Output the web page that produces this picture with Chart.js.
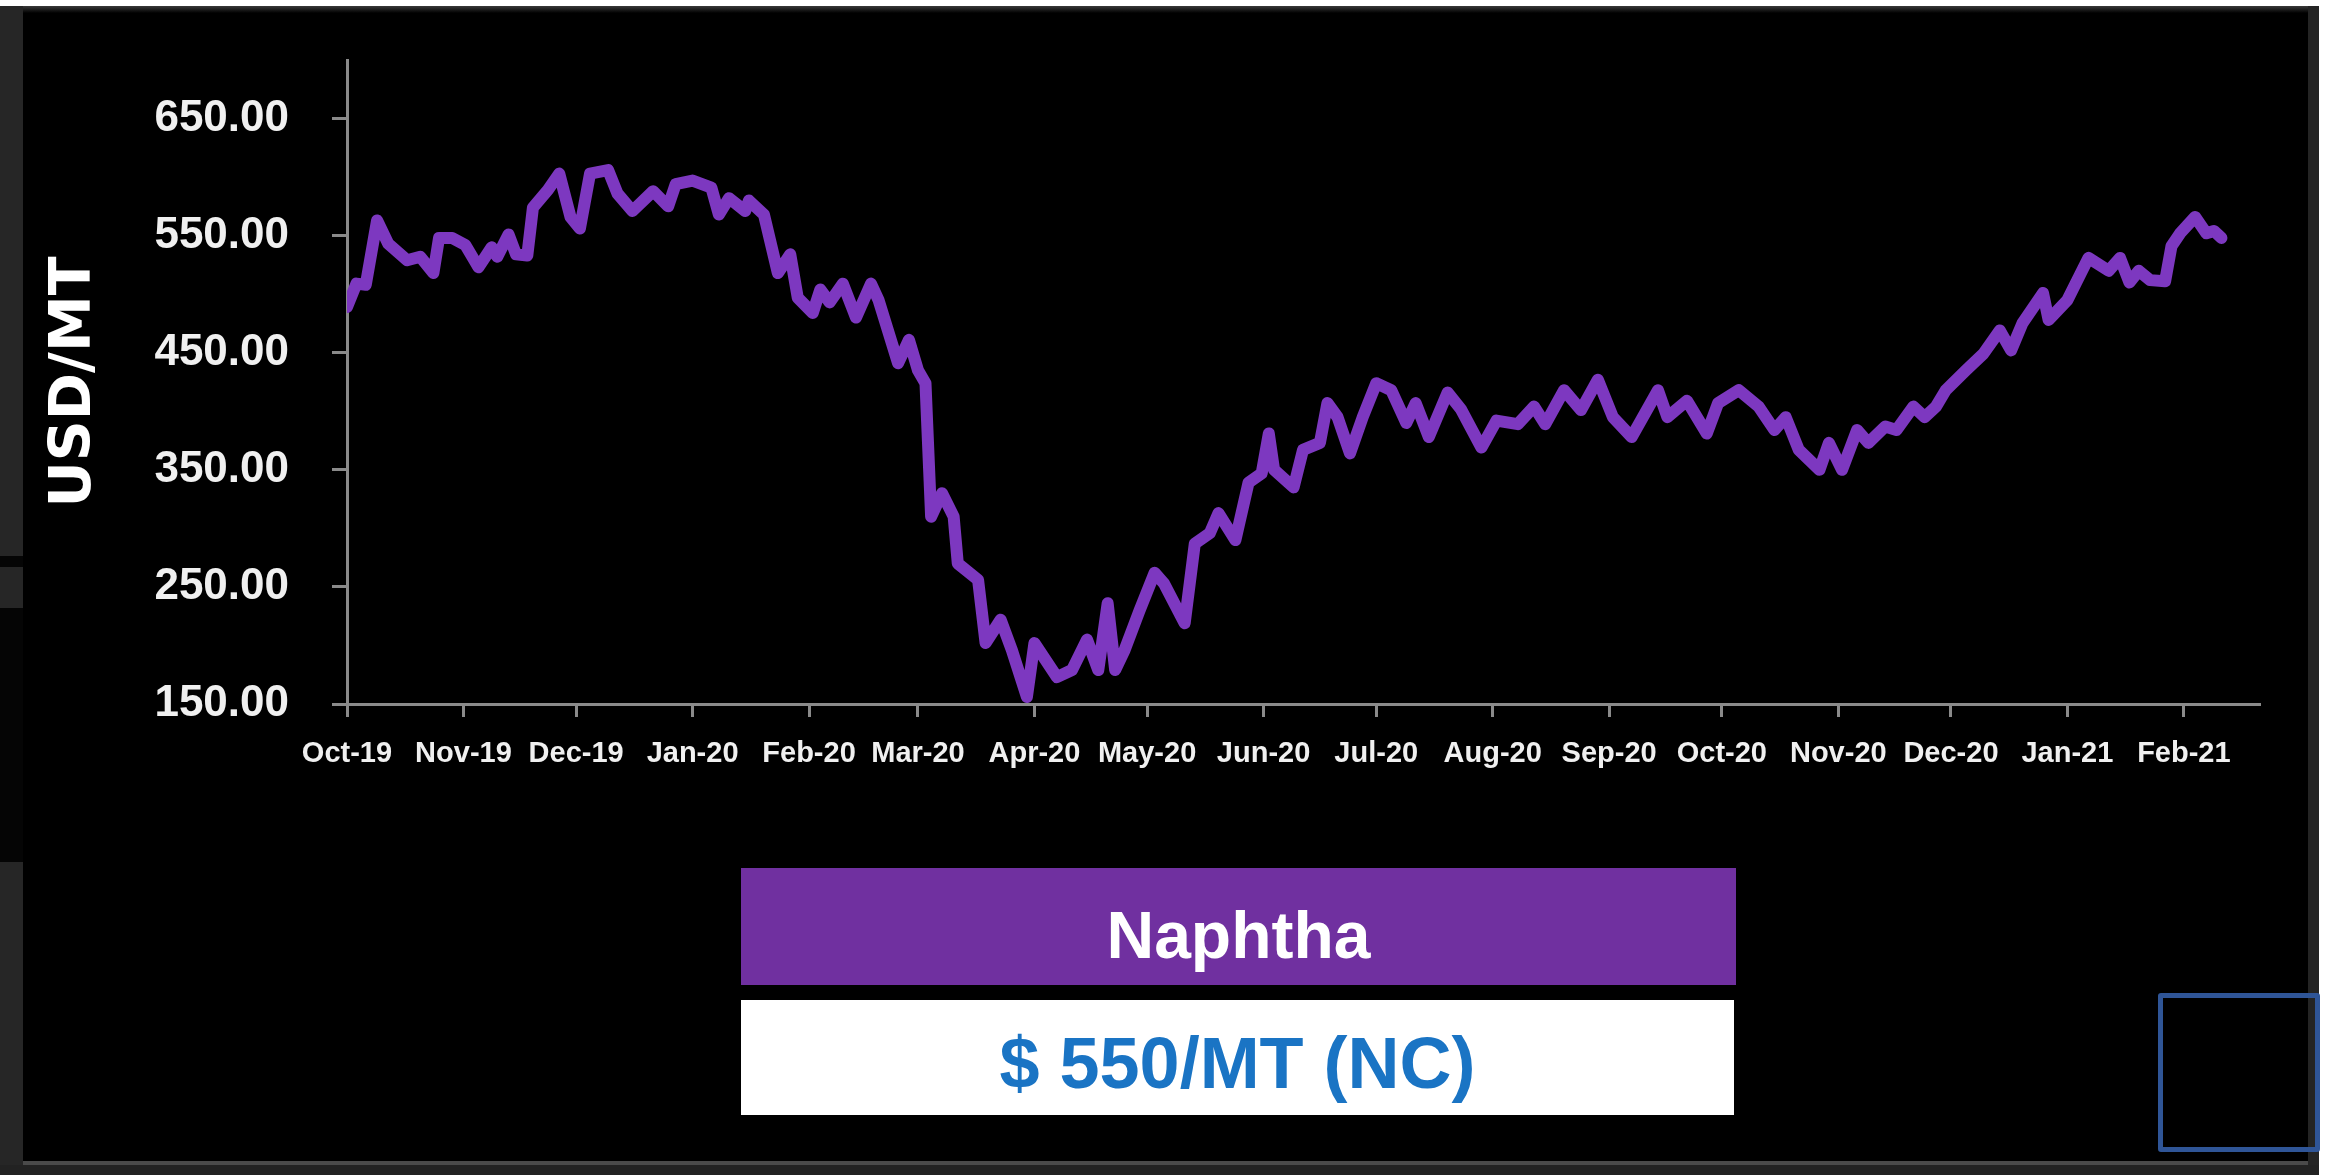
<!DOCTYPE html>
<html lang="en">
<head>
  <meta charset="UTF-8" />
  <title>Naphtha</title>
  <script src="https://cdn.jsdelivr.net/npm/chart.js"></script>
  <style>
    * { box-sizing: border-box; }
    body {
      margin: 0;
      width: 2331px;
      height: 1175px;
      background: #000;
      overflow: hidden;
      position: relative;
      font-family: 'Liberation Sans', Arial, sans-serif;
    }
    .abs { position: absolute; }
    .top-band { left: 0; top: 0; width: 2331px; height: 6px; background: #fff; }
    .top-line { left: 0; top: 6px; width: 2331px; height: 7px; background: linear-gradient(#3a3a3a, #000); }
    .left-strip { left: 0; top: 6px; width: 23px; height: 1169px; background: #262626; }
    .left-gap { left: 0; width: 23px; background: #050505; }
    .right-strip { left: 2308px; top: 6px; width: 11px; height: 1169px; background: #242424; }
    .right-band { left: 2319px; top: 0; width: 12px; height: 1175px; background: #fff; }
    .bottom-line { left: 23px; top: 1161px; width: 2285px; height: 4px; background: #4a4a4a; }
    .bottom-band { left: 0; top: 1165px; width: 2319px; height: 10px; background: #222; }
    #wrap { left: 0; top: 0; width: 2331px; height: 824px; }
    .box {
      display: flex;
      align-items: center;
      justify-content: center;
      font-weight: bold;
    }
    .name {
      left: 741px; top: 868px; width: 995px; height: 117px;
      background: #7030a0; color: #fff; font-size: 66px; padding-top: 16px;
    }
    .price {
      left: 741px; top: 1000px; width: 993px; height: 115px;
      background: #fff; color: #1a74c4; font-size: 72px; padding-top: 10px;
    }
    .square {
      left: 2158px; top: 993px; width: 162px; height: 159px;
      border: 5px solid #2f5597; border-radius: 3px;
    }
  </style>
</head>
<body>
  <div class="abs top-band"></div>
  <div class="abs top-line"></div>
  <div class="abs left-strip"></div>
  <div class="abs left-gap" style="top:556px;height:11px"></div>
  <div class="abs left-gap" style="top:608px;height:254px"></div>
  <div class="abs right-strip"></div>
  <div class="abs right-band"></div>
  <div class="abs bottom-line"></div>
  <div class="abs bottom-band"></div>

  <div id="wrap" class="abs"><canvas id="chart"></canvas></div>

  <div class="abs box name">Naphtha</div>
  <div class="abs box price">$ 550/MT (NC)</div>
  <div class="abs square"></div>

  <script>
    // month ticks (days since 1 Oct 2019)
    const monthLabels = ['Oct-19', 'Nov-19', 'Dec-19', 'Jan-20', 'Feb-20', 'Mar-20', 'Apr-20', 'May-20', 'Jun-20',
      'Jul-20', 'Aug-20', 'Sep-20', 'Oct-20', 'Nov-20', 'Dec-20', 'Jan-21', 'Feb-21'];
    const monthDays = [0, 31, 61, 92, 123, 152, 183, 213, 244, 274, 305, 336, 366, 397, 427, 458, 489];
    const yTicks = [150, 250, 350, 450, 550, 650];

    // naphtha price, USD/MT
    const days = [0, 2.5, 5, 8, 11, 16, 19.5, 23, 24.5, 28, 31.5, 35, 38.5, 40, 43, 45, 48, 49.5, 53.5, 56.5,
      59.5, 62, 64.7, 69.5, 72, 76, 81.5, 85.5, 87.5, 92, 97, 99, 101.7, 106, 107, 111, 114.7, 118, 120, 124,
      126, 128.5, 132, 135.5, 139.5, 141.5, 146.7, 149.6, 152, 154, 155.5, 158.4, 161.5, 162.6, 168, 170, 174, 177, 181, 183,
      189, 193, 197, 200, 202.5, 204.5, 207, 211, 215, 217.5, 223, 225.7, 229.7, 232, 236.5, 240, 243.5, 245.4, 246.8, 252,
      254.5, 259, 261, 263.7, 267, 270.4, 274, 278, 282, 284.5, 288, 293, 296.5, 302, 306, 311.7, 316, 319, 324, 328.5,
      333, 337, 342, 349, 351.5, 356.7, 362, 365, 370.5, 375.8, 380, 383, 386.5, 392, 394.5, 398, 402, 405, 409.5, 412.5,
      417, 420, 423, 425.6, 431, 435.6, 440, 443, 446, 451.5, 453, 458, 463.6, 469, 472, 474.5, 477, 480, 484, 485.7,
      488, 492, 495, 497, 499];
    const prices = [489, 509, 508, 563, 543, 529, 532, 518, 548, 548, 542, 523, 540, 532, 551, 534, 533, 574, 589, 603,
      566, 556, 603, 606, 586, 571, 588, 575, 594, 597, 591, 568, 582, 571, 580, 568, 518, 534, 497, 484,
      504, 493, 509, 480, 509, 495, 441, 461, 435, 424, 310, 330, 310, 270, 256, 202, 222, 196, 156, 202,
      173, 179, 205, 179, 236, 179, 196, 230, 262, 253, 219, 287, 296, 313, 290, 339, 347, 381, 350, 335,
      367, 373, 407, 395, 364, 395, 424, 418, 390, 407, 378, 416, 402, 369, 392, 389, 404, 389, 418, 401,
      427, 395, 378, 418, 395, 409, 381, 407, 418, 404, 384, 395, 367, 350, 373, 350, 384, 373, 387, 384,
      404, 395, 404, 418, 435, 449, 469, 452, 475, 501, 478, 495, 531, 520, 531, 510, 520, 512, 511, 541,
      552, 566, 552, 554, 548];

    const axisGray = '#8a8a8a';
    const labelColor = '#f0f0f0';

    new Chart(document.getElementById('chart'), {
      type: 'line',
      data: {
        datasets: [{
          label: 'Naphtha',
          data: days.map((d, i) => ({ x: d, y: prices[i] })),
          borderColor: '#7d38c0',
          borderWidth: 12,
          borderJoinStyle: 'round',
          borderCapStyle: 'round',
          pointRadius: 0,
          tension: 0,
          fill: false
        }]
      },
      options: {
        responsive: true,
        maintainAspectRatio: false,
        devicePixelRatio: 1,
        animation: false,
        layout: { padding: { left: 0, top: 60, right: 72, bottom: 0 } },
        plugins: { legend: { display: false }, tooltip: { enabled: false } },
        scales: {
          x: {
            type: 'linear',
            min: 0,
            max: 509,
            afterBuildTicks: s => { s.ticks = monthDays.map(v => ({ value: v })); },
            afterFit: s => { s.height = 120; s.paddingLeft = 0; s.paddingRight = 0; },
            ticks: {
              autoSkip: false,
              maxRotation: 0,
              padding: 20,
              color: labelColor,
              font: { family: "'Liberation Sans', Arial, sans-serif", size: 29, weight: 'bold' },
              callback: (v, i) => monthLabels[i]
            },
            grid: { drawOnChartArea: false, drawTicks: true, tickLength: 13, color: axisGray, lineWidth: 3 },
            border: { display: true, color: axisGray, width: 3 }
          },
          y: {
            min: 150,
            max: 700,
            afterBuildTicks: s => { s.ticks = yTicks.map(v => ({ value: v })); },
            afterFit: s => { s.width = 347; s.paddingTop = 0; s.paddingBottom = 0; },
            ticks: {
              padding: 43,
              color: labelColor,
              font: { family: "'Liberation Sans', Arial, sans-serif", size: 44, weight: 'bold' },
              callback: v => v.toFixed(2)
            },
            grid: { drawOnChartArea: false, drawTicks: true, tickLength: 15, color: axisGray, lineWidth: 3 },
            border: { display: true, color: axisGray, width: 3 },
            title: {
              display: true,
              text: 'USD/MT',
              color: '#fff',
              padding: { top: 47, bottom: 0 },
              font: { family: "'DejaVu Sans', sans-serif", size: 57, weight: 'bold', lineHeight: 1 }
            }
          }
        }
      }
    });
  </script>
</body>
</html>
